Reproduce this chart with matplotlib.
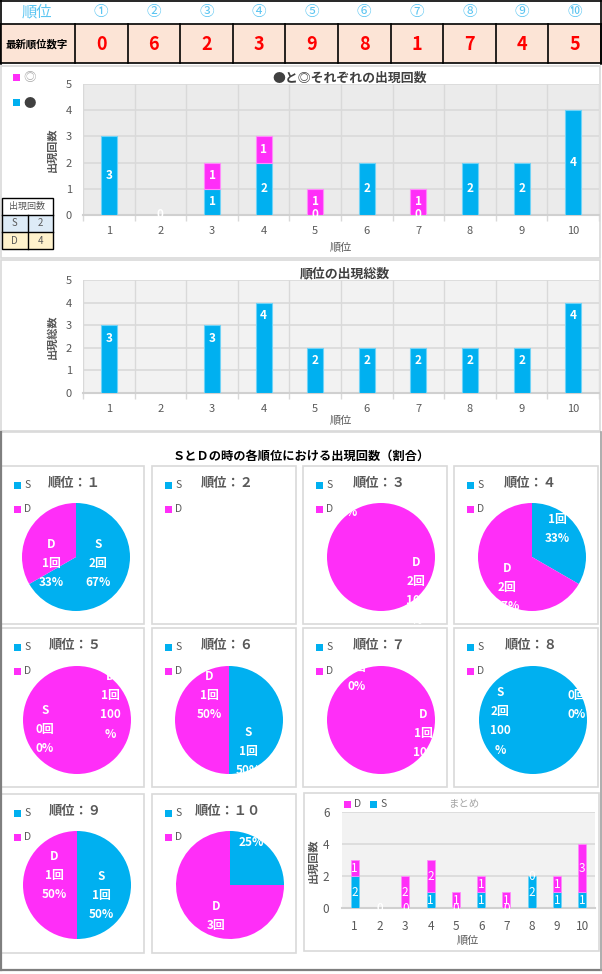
import numpy as np
import matplotlib
matplotlib.use("Agg")
import matplotlib.pyplot as plt
from matplotlib.patches import Rectangle

plt.rcParams['font.family'] = ['Noto Sans CJK JP', 'DejaVu Sans']

W, H = 602, 974
CYAN = '#00B0F0'
MAGENTA = '#FF2EF8'
GRAY_TXT = '#595959'
FRAME = '#D9D9D9'

# ---- data ----
ranks = list(range(1, 11))
circled = ['①', '②', '③', '④', '⑤', '⑥', '⑦', '⑧', '⑨', '⑩']
latest_digits = [0, 6, 2, 3, 9, 8, 1, 7, 4, 5]

dot_counts = [3, 0, 1, 2, 0, 2, 0, 2, 2, 4]      # ●
ring_counts = [0, 0, 1, 1, 1, 0, 1, 0, 0, 0]     # ◎
total_counts = [3, 0, 3, 4, 2, 2, 2, 2, 2, 4]

s_counts = [2, 0, 0, 1, 0, 1, 0, 2, 1, 1]
d_counts = [1, 0, 2, 2, 1, 1, 1, 0, 1, 3]

table_rows = [('S', 2), ('D', 4)]

# ---- layout (image pixels) ----
pie_centers = [(76, 557), (229, 557), (381, 557), (532, 557),
               (77, 720), (229, 720), (381, 720), (533, 720),
               (77, 885), (230, 885)]
pie_panels = [(1, 466, 144, 624), (152, 466, 296, 624), (303, 466, 447, 624), (454, 466, 598, 624),
              (1, 628, 144, 787), (152, 628, 296, 787), (303, 628, 447, 787), (454, 628, 598, 787),
              (1, 794, 144, 953), (152, 794, 296, 953)]
# where the "N回" line of each label sits, relative to the pie centre (S, D)
pie_label_pos = [((22, 6), (-25, 6)), None, ((-32, -63), (35, 25)), ((25, -37), (-25, 31)),
                 ((-32, 10), (33, -24)), ((19, 31), (-20, -25)), ((-24, -52), (42, 13)),
                 ((-33, -8), (44, -24)), ((24, 11), (-23, -9)), ((21, -62), (-14, 40))]
R = 54
LINE = 19


def rect(x0, y0, x1, y1):
    return [x0 / W, 1 - y1 / H, (x1 - x0) / W, (y1 - y0) / H]


def frame(ax, x0, y0, x1, y1, color=FRAME, lw=1.2):
    ax.add_patch(Rectangle((x0, y0), x1 - x0, y1 - y0, fill=False, ec=color, lw=lw))


def edge_widths(values, lw):
    return [lw if v > 0 else 0 for v in values]


def style_bar_axes(ax, bg, ymax, yticks, vgrid=True):
    ax.set_facecolor(bg)
    ax.set_xlim(0.5, 10.5)
    ax.set_ylim(0, ymax)
    ax.set_xticks(ranks)
    ax.set_yticks(yticks)
    ax.set_xticks(np.arange(0.5, 11, 1), minor=True)
    ax.grid(axis='y', color='#D9D9D9', lw=1.2, zorder=0)
    if vgrid:
        ax.grid(axis='x', which='minor', color='#D9D9D9', lw=1.0, zorder=0)
    ax.set_axisbelow(True)
    for side in ('top', 'right', 'left'):
        ax.spines[side].set_visible(False)
    ax.spines['bottom'].set_color('#D0D0D0')
    ax.spines['bottom'].set_linewidth(1.5)
    ax.tick_params(axis='both', which='major', length=0, labelsize=8, labelcolor=GRAY_TXT, pad=8)
    ax.tick_params(axis='x', which='minor', length=4 if vgrid else 0, color='#D9D9D9', width=1)


fig = plt.figure(figsize=(W / 100, H / 100), dpi=100)
bg = fig.add_axes([0, 0, 1, 1])
bg.set_xlim(0, W)
bg.set_ylim(H, 0)
bg.axis('off')

# ---- header table ----
col_x = [0, 75] + [75 + 52.6 * k for k in range(1, 11)]
bg.add_patch(Rectangle((0, 24), 601, 39, fc='#FCE4D6', ec='none'))
for xb in col_x:
    bg.plot([xb, xb], [24, 63], color='black', lw=1.2)
bg.plot([0, 601], [24, 24], color='black', lw=1.2)
bg.plot([0, 601], [63, 63], color='black', lw=1.2)
bg.plot([0, 601], [0.5, 0.5], color='black', lw=1.2)
bg.plot([0.5, 0.5], [0, 64], color='black', lw=1.2)
bg.plot([601, 601], [0, 64], color='black', lw=1.2)
bg.text(37, 12, '順位', ha='center', va='center', fontsize=11, color='#5BC5F2')
bg.text(37, 44, '最新順位数字', ha='center', va='center', fontsize=7.5, fontweight='bold', color='black')
for i in range(10):
    xc = (col_x[i + 1] + col_x[i + 2]) / 2
    bg.text(xc, 12, circled[i], ha='center', va='center', fontsize=10.5, color='#5BC5F2')
    bg.text(xc, 44, str(latest_digits[i]), ha='center', va='center', fontsize=13,
            fontweight='bold', color='#FF0000')

# ---- panel frames ----
frame(bg, 0.5, 66, 600, 258)
frame(bg, 0.5, 260, 600, 431)
bg.plot([0, 600], [432, 432], color=FRAME, lw=1.2)
bg.plot([0.8, 0.8], [432, 970], color='#7F7F7F', lw=1.6)
bg.plot([0, 601], [970, 970], color='#7F7F7F', lw=1.6)
bg.plot([600.5, 600.5], [432, 970], color='#A0A0A0', lw=1.2)
for p in pie_panels:
    frame(bg, *p)
frame(bg, 304, 793, 599, 951)

# ---- chart 1: ● and ◎ ----
x = np.array(ranks)
ax1 = fig.add_axes(rect(83, 84, 599, 215))
ax1.bar(x, dot_counts, width=0.31, color=CYAN, ec='#6FD3F7', lw=edge_widths(dot_counts, 0.8),
        zorder=3)
ax1.bar(x, ring_counts, width=0.31, bottom=dot_counts, color=MAGENTA, ec='#FF8CFB',
        lw=edge_widths(ring_counts, 0.8), zorder=3)
style_bar_axes(ax1, '#EBEBEB', 5, range(6))
for xi, a, b in zip(x, dot_counts, ring_counts):
    ax1.text(xi, a / 2, str(a), ha='center', va='center', color='white', fontsize=8.5,
             fontweight='bold', zorder=5)
    if b > 0:
        ax1.text(xi, a + b / 2, str(b), ha='center', va='center', color='white', fontsize=8.5,
                 fontweight='bold', zorder=5)
bg.text(350, 78, '●と◎それぞれの出現回数', ha='center', va='center', fontsize=9.3,
        fontweight='bold', color='#404040')
bg.text(52, 150, '出現回数', ha='center', va='center', rotation=90, fontsize=8,
        fontweight='bold', color=GRAY_TXT)
bg.text(341, 248, '順位', ha='center', va='center', fontsize=8, color=GRAY_TXT)
bg.add_patch(Rectangle((13, 74), 7, 7, fc=MAGENTA, ec='none'))
bg.text(30, 78, '◎', ha='center', va='center', fontsize=9, color='#A6A6A6')
bg.add_patch(Rectangle((13, 99), 7, 7, fc=CYAN, ec='none'))
bg.text(30, 103, '●', ha='center', va='center', fontsize=9, color='#404040')

# small count table
bg.add_patch(Rectangle((2, 215), 51, 17, fc='#DDEBF7', ec='none'))
bg.add_patch(Rectangle((2, 232), 51, 17, fc='#FFF2CC', ec='none'))
frame(bg, 2, 198, 53, 249, color='black', lw=1.0)
bg.plot([2, 53], [215, 215], color='black', lw=1.0)
bg.plot([2, 53], [232, 232], color='black', lw=1.0)
bg.plot([27.5, 27.5], [215, 249], color='black', lw=1.0)
bg.text(27.5, 206.5, '出現回数', ha='center', va='center', fontsize=6.5, color=GRAY_TXT)
for k, (name, val) in enumerate(table_rows):
    yc = 223.5 + 17 * k
    bg.text(14.5, yc, name, ha='center', va='center', fontsize=7, color=GRAY_TXT)
    bg.text(40, yc, str(val), ha='center', va='center', fontsize=7, color=GRAY_TXT)

# ---- chart 2: totals ----
ax2 = fig.add_axes(rect(83, 280, 599, 393))
ax2.bar(x, total_counts, width=0.31, color=CYAN, ec='#6FD3F7', lw=edge_widths(total_counts, 0.8),
        zorder=3)
style_bar_axes(ax2, '#F2F2F2', 5, range(6))
for xi, v in zip(x, total_counts):
    if v > 0:
        ax2.annotate(str(v), (xi, v), xytext=(0, -13), textcoords='offset pixels',
                     ha='center', va='center', color='white', fontsize=8.5, fontweight='bold',
                     zorder=5)
bg.text(345, 273, '順位の出現総数', ha='center', va='center', fontsize=9.3,
        fontweight='bold', color='#404040')
bg.text(52, 337, '出現総数', ha='center', va='center', rotation=90, fontsize=8,
        fontweight='bold', color=GRAY_TXT)
bg.text(341, 421, '順位', ha='center', va='center', fontsize=8, color=GRAY_TXT)

# ---- pies ----
bg.text(301, 456, 'ＳとＤの時の各順位における出現回数（割合）', ha='center', va='center',
        fontsize=8.8, fontweight='bold', color='black')
for i in range(10):
    cx, cy = pie_centers[i]
    s, d = s_counts[i], d_counts[i]
    total = s + d
    if total == 0:
        continue
    ax = fig.add_axes(rect(cx - 72, cy - 72, cx + 72, cy + 72))
    ax.pie([s, d], colors=[CYAN, MAGENTA], radius=R, startangle=90, counterclock=False,
           frame=True, wedgeprops=dict(linewidth=0))
    ax.set_xlim(-72, 72)
    ax.set_ylim(-72, 72)
    ax.axis('off')
    for (name, c), (dx, dy) in zip([('S', s), ('D', d)], pie_label_pos[i]):
        pct = round(100 * c / total)
        lines = [name, f'{c}回'] + (['100', '%'] if pct == 100 else [f'{pct}%'])
        for k, line in enumerate(lines):
            ax.text(dx, -(dy + (k - 1) * LINE), line, ha='center', va='center',
                    color='white', fontsize=8.5, fontweight='bold', clip_on=False)

# titles and legends drawn on top of the pies
top = fig.add_axes([0, 0, 1, 1], zorder=10)
top.set_xlim(0, W)
top.set_ylim(H, 0)
top.axis('off')
for i in range(10):
    cx, cy = pie_centers[i]
    px0, py0, px1, py1 = pie_panels[i]
    title_num = ''.join(chr(ord('０') + int(ch)) for ch in str(ranks[i]))
    top.text(cx - 2, py0 + 17, '順位：' + title_num, ha='center', va='center', fontsize=9.5,
             fontweight='bold', color=GRAY_TXT)
    for k, (name, col) in enumerate([('S', CYAN), ('D', MAGENTA)]):
        yc = py0 + 19 + 24 * k
        top.add_patch(Rectangle((px0 + 13, yc - 3.5), 7, 7, fc=col, ec='none'))
        top.text(px0 + 23, yc, name, ha='left', va='center', fontsize=7.5, color=GRAY_TXT)

# ---- summary chart ----
ax3 = fig.add_axes(rect(342, 812, 595, 908))
ax3.bar(x, s_counts, width=0.32, color=CYAN, ec='#6FD3F7', lw=edge_widths(s_counts, 0.6),
        zorder=3)
ax3.bar(x, d_counts, width=0.32, bottom=s_counts, color=MAGENTA, ec='#FF8CFB',
        lw=edge_widths(d_counts, 0.6), zorder=3)
style_bar_axes(ax3, '#F2F2F2', 6, [0, 2, 4, 6], vgrid=False)
ax3.tick_params(axis='both', which='major', labelsize=8.5, pad=9)
for xi, a, b in zip(x, s_counts, d_counts):
    ax3.text(xi, a / 2, str(a), ha='center', va='center', color='white', fontsize=8.5, zorder=5)
    ax3.text(xi, a + b / 2, str(b), ha='center', va='center', color='white', fontsize=8.5, zorder=5)
top.text(464, 804, 'まとめ', ha='center', va='center', fontsize=7.5, color='#A6A6A6')
top.add_patch(Rectangle((344, 800.5), 7, 7, fc=MAGENTA, ec='none'))
top.text(354, 804, 'D', ha='left', va='center', fontsize=7.5, color=GRAY_TXT)
top.add_patch(Rectangle((370, 800.5), 7, 7, fc=CYAN, ec='none'))
top.text(380, 804, 'S', ha='left', va='center', fontsize=7.5, color=GRAY_TXT)
top.text(313, 861, '出現回数', ha='center', va='center', rotation=90, fontsize=8,
         fontweight='bold', color=GRAY_TXT)
top.text(468, 941, '順位', ha='center', va='center', fontsize=8, color=GRAY_TXT)

fig.savefig('out.png', dpi=100)
